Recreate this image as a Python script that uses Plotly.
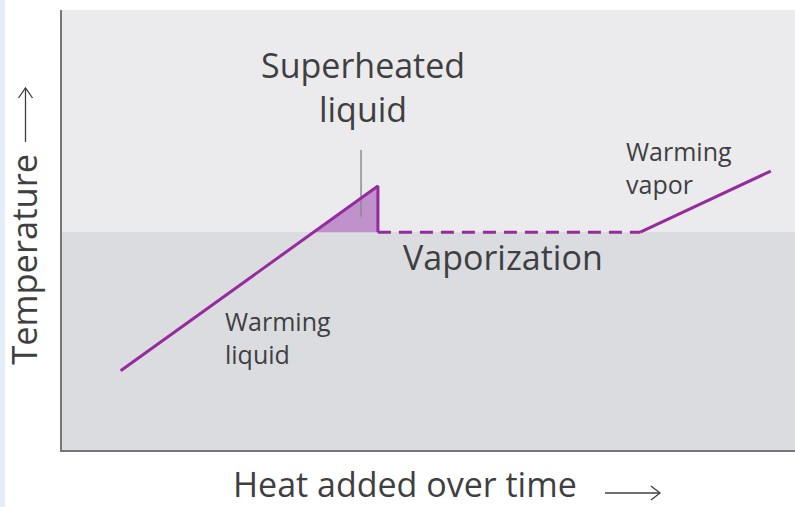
import plotly.graph_objects as go

# ---- data (arbitrary units: heat 0-100, temperature 0-100) ----
heat_liquid = [8, 43.1]          # warming liquid -> superheated peak
temp_liquid = [18, 60]
heat_drop = [43.1, 43.1]         # sudden drop to boiling point
temp_drop = [60, 49.5]
heat_vaporization = [43.1, 78.9]
boiling_point = 49.5
heat_vapor = [78.9, 96.7]
temp_vapor = [49.5, 63.4]
pointer_heat = [40.8, 40.8]
pointer_temp = [68.2, 53.0]

label_superheated = "Superheated<br>liquid"
label_warm_liquid = "Warming<br>liquid"
label_warm_vapor = "Warming<br>vapor"
label_vaporization = "Vaporization"
x_title = "Heat added over time"
y_title = "Temperature"

PURPLE = "#952b9d"
FILL = "rgba(185,130,198,0.85)"
TEXT = "#3f3f41"
FONT = "Open Sans"

# crossing of the warming line with the boiling point (start of superheated region)
slope = (temp_liquid[1] - temp_liquid[0]) / (heat_liquid[1] - heat_liquid[0])
cross_heat = heat_liquid[0] + (boiling_point - temp_liquid[0]) / slope

fig = go.Figure()

# superheated triangle
fig.add_trace(go.Scatter(
    x=[cross_heat, heat_liquid[1], heat_drop[1], cross_heat],
    y=[boiling_point, temp_liquid[1], temp_drop[1], boiling_point],
    fill="toself", fillcolor=FILL, mode="lines", line=dict(width=0),
    hoverinfo="skip", showlegend=False))

# pointer line
fig.add_trace(go.Scatter(x=pointer_heat, y=pointer_temp, mode="lines",
                         line=dict(color="#8c8c8c", width=1.5),
                         hoverinfo="skip", showlegend=False))

# warming liquid + drop
fig.add_trace(go.Scatter(x=heat_liquid + heat_drop[1:], y=temp_liquid + temp_drop[1:],
                         mode="lines", line=dict(color=PURPLE, width=3),
                         showlegend=False))
# vaporization (dashed)
fig.add_trace(go.Scatter(x=heat_vaporization, y=[boiling_point] * 2, mode="lines",
                         line=dict(color=PURPLE, width=3, dash="13px,8px"),
                         showlegend=False))
# warming vapor
fig.add_trace(go.Scatter(x=heat_vapor, y=temp_vapor, mode="lines",
                         line=dict(color=PURPLE, width=3), showlegend=False))

# pixel helpers -> paper coords (plot area: x 62..795, y 10..450)
def px(xp):
    return (xp - 62) / 733
def py(yp):
    return (450 - yp) / 440

ARROW = "#3f3f41"
shapes = [
    dict(type="rect", xref="paper", yref="y", x0=0, x1=1, y0=boiling_point, y1=100,
         fillcolor="#ebebed", line=dict(width=0), layer="below"),
    dict(type="rect", xref="paper", yref="y", x0=0, x1=1, y0=0, y1=boiling_point,
         fillcolor="#dadce0", line=dict(width=0), layer="below"),
    # light blue strip on page edge
    dict(type="rect", xref="paper", yref="paper", x0=px(0), x1=px(5),
         y0=py(510), y1=py(-3), fillcolor="#e3eef8", line=dict(width=0)),
    # x-axis title arrow
    dict(type="line", xref="paper", yref="paper", x0=px(605), x1=px(660), y0=py(493), y1=py(493),
         line=dict(color=ARROW, width=1.3)),
    dict(type="path", xref="paper", yref="paper",
         path=f"M {px(651)} {py(486)} L {px(660)} {py(493)} L {px(651)} {py(500)}",
         line=dict(color=ARROW, width=1.3)),
    # y-axis title arrow
    dict(type="line", xref="paper", yref="paper", x0=px(25.5), x1=px(25.5), y0=py(142), y1=py(88),
         line=dict(color=ARROW, width=1.3)),
    dict(type="path", xref="paper", yref="paper",
         path=f"M {px(18.5)} {py(98)} L {px(25.5)} {py(88)} L {px(32.5)} {py(98)}",
         line=dict(color=ARROW, width=1.3)),
]

anns = []
def txt(text, x, y, size, xanchor="center", angle=0, align="center"):
    anns.append(dict(text=text, x=px(x), y=py(y), xref="paper", yref="paper", showarrow=False,
                     xanchor=xanchor, yanchor="middle", textangle=angle, align=align,
                     font=dict(family=FONT, size=size, color=TEXT)))

txt(label_superheated, 362.5, 86.7, 34)
txt(label_warm_liquid, 223, 337.3, 25, xanchor="left", align="left")
txt(label_warm_vapor, 624, 167.3, 25, xanchor="left", align="left")
txt(label_vaporization, 503, 257, 34)
txt(x_title, 405, 484, 34)
txt(y_title, 22.8, 259, 34.5, angle=-90)

fig.update_layout(
    width=795, height=507,
    margin=dict(l=62, r=0, t=10, b=57),
    paper_bgcolor="white", plot_bgcolor="#dadce0",
    shapes=shapes, annotations=anns,
    xaxis=dict(range=[0, 100], showgrid=False, zeroline=False, showticklabels=False,
               ticks="", showline=True, linecolor="#77777a", linewidth=2),
    yaxis=dict(range=[0, 100], showgrid=False, zeroline=False, showticklabels=False,
               ticks="", showline=True, linecolor="#77777a", linewidth=2),
)

fig.write_html("out.html", config={"displayModeBar": False},
               post_script="document.body.style.margin='0';document.body.style.overflow='hidden';")
